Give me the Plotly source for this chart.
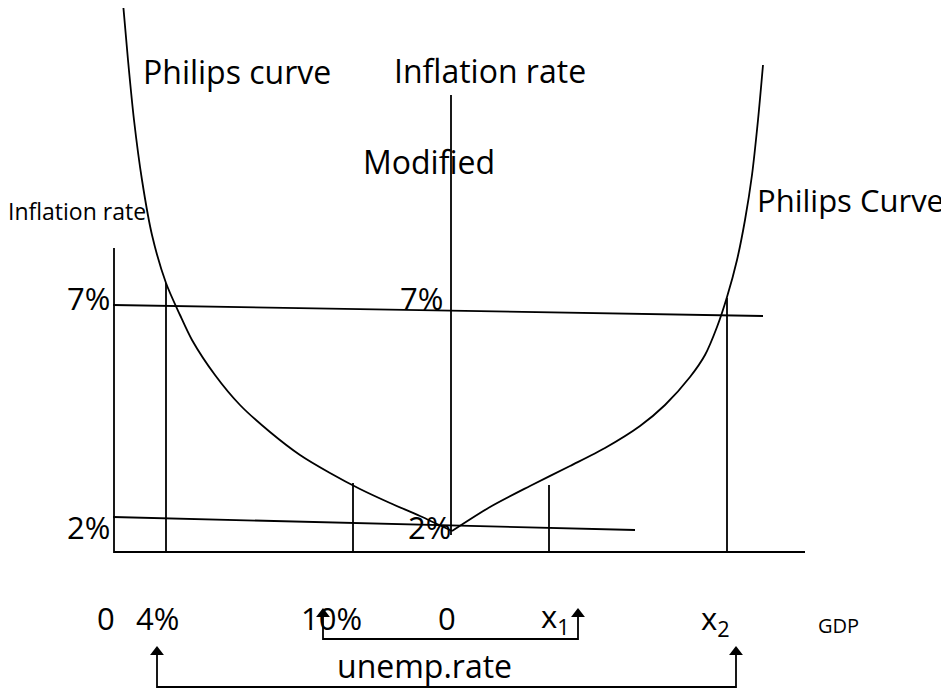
import plotly.graph_objects as go

# Diagram coordinates (x to the right, y downward, in drawing units)
left_curve_x = [123, 128, 134, 142, 152, 166, 180, 192, 215, 240, 270, 300, 330, 360, 390, 420, 452]
left_curve_y = [3, 60, 120, 180, 235, 283, 315, 340, 375, 405, 432, 455, 473, 489, 503, 516, 531]
right_curve_x = [452, 490, 530, 570, 605, 640, 665, 690, 705, 717, 727, 737, 745, 752, 758, 763]
right_curve_y = [531, 507, 486, 466, 448, 426, 405, 377, 355, 327, 297, 260, 220, 175, 120, 65]

line7_x = [113, 763]
line7_y = [305, 316]
line2_x = [113, 635]
line2_y = [517, 530]

axis_left_x = [114, 114, 805]
axis_left_y = [248, 552, 552]
axis_mid_x = [451, 451]
axis_mid_y = [95, 535]

drop_x = [166, 353, 549, 727]
drop_top = [283, 483, 485, 298]
base_y = 552

labels = [
    ("Philips curve", 237, 71, 32),
    ("Inflation rate", 490, 70, 32),
    ("Modified", 429, 161, 32),
    ("Inflation rate", 77, 211, 23),
    ("Philips Curve", 850, 200, 31),
    ("7%", 88, 298, 31),
    ("7%", 421, 298, 31),
    ("2%", 88, 527, 31),
    ("2%", 429, 527, 31),
    ("0", 106, 618, 31),
    ("4%", 157, 618, 31),
    ("10%", 331, 618, 31),
    ("0", 447, 618, 31),
    ("x<sub>1</sub>", 555, 618, 31),
    ("x<sub>2</sub>", 715, 620, 31),
    ("GDP", 838, 625, 20),
    ("unemp.rate", 424, 665, 32),
]

small_bracket_x = [323, 578]
small_bracket_y = [639, 608]   # base, arrow tip
big_bracket_x = [157, 736]
big_bracket_y = [687, 646]

fig = go.Figure()
LW = 1.8

def seg(xs, ys, shape="linear"):
    fig.add_trace(go.Scatter(x=xs, y=ys, mode="lines",
                             line=dict(color="black", width=LW, shape=shape,
                                       smoothing=0.8),
                             hoverinfo="skip", showlegend=False))

seg(left_curve_x, left_curve_y, "spline")
seg(right_curve_x, right_curve_y, "spline")
seg(line7_x, line7_y)
seg(line2_x, line2_y)
seg(axis_left_x, axis_left_y)
seg(axis_mid_x, axis_mid_y)
for xv, top in zip(drop_x, drop_top):
    seg([xv, xv], [base_y, top])

# brackets with arrowheads
for bx, by in ((small_bracket_x, small_bracket_y), (big_bracket_x, big_bracket_y)):
    seg([bx[0], bx[0], bx[1], bx[1]], [by[1] + 6, by[0], by[0], by[1] + 6])
    fig.add_trace(go.Scatter(x=bx, y=[by[1] + 6] * 2, mode="markers",
                             marker=dict(symbol="triangle-up", size=12, color="black",
                                         line=dict(width=0)),
                             hoverinfo="skip", showlegend=False))

for txt, x, y, s in labels:
    fig.add_annotation(x=x, y=y, text=txt, showarrow=False, xref="x", yref="y",
                       xanchor="center", yanchor="middle",
                       font=dict(family="Open Sans", size=s, color="black"))

# page body has an 8px margin; offset ranges so drawing units match screen pixels
fig.update_xaxes(range=[8, 957], visible=False, fixedrange=True)
fig.update_yaxes(range=[699, 8], visible=False, fixedrange=True)
fig.update_layout(width=949, height=691, margin=dict(l=0, r=0, t=0, b=0),
                  plot_bgcolor="white", paper_bgcolor="white")
fig.write_html("out.html")
